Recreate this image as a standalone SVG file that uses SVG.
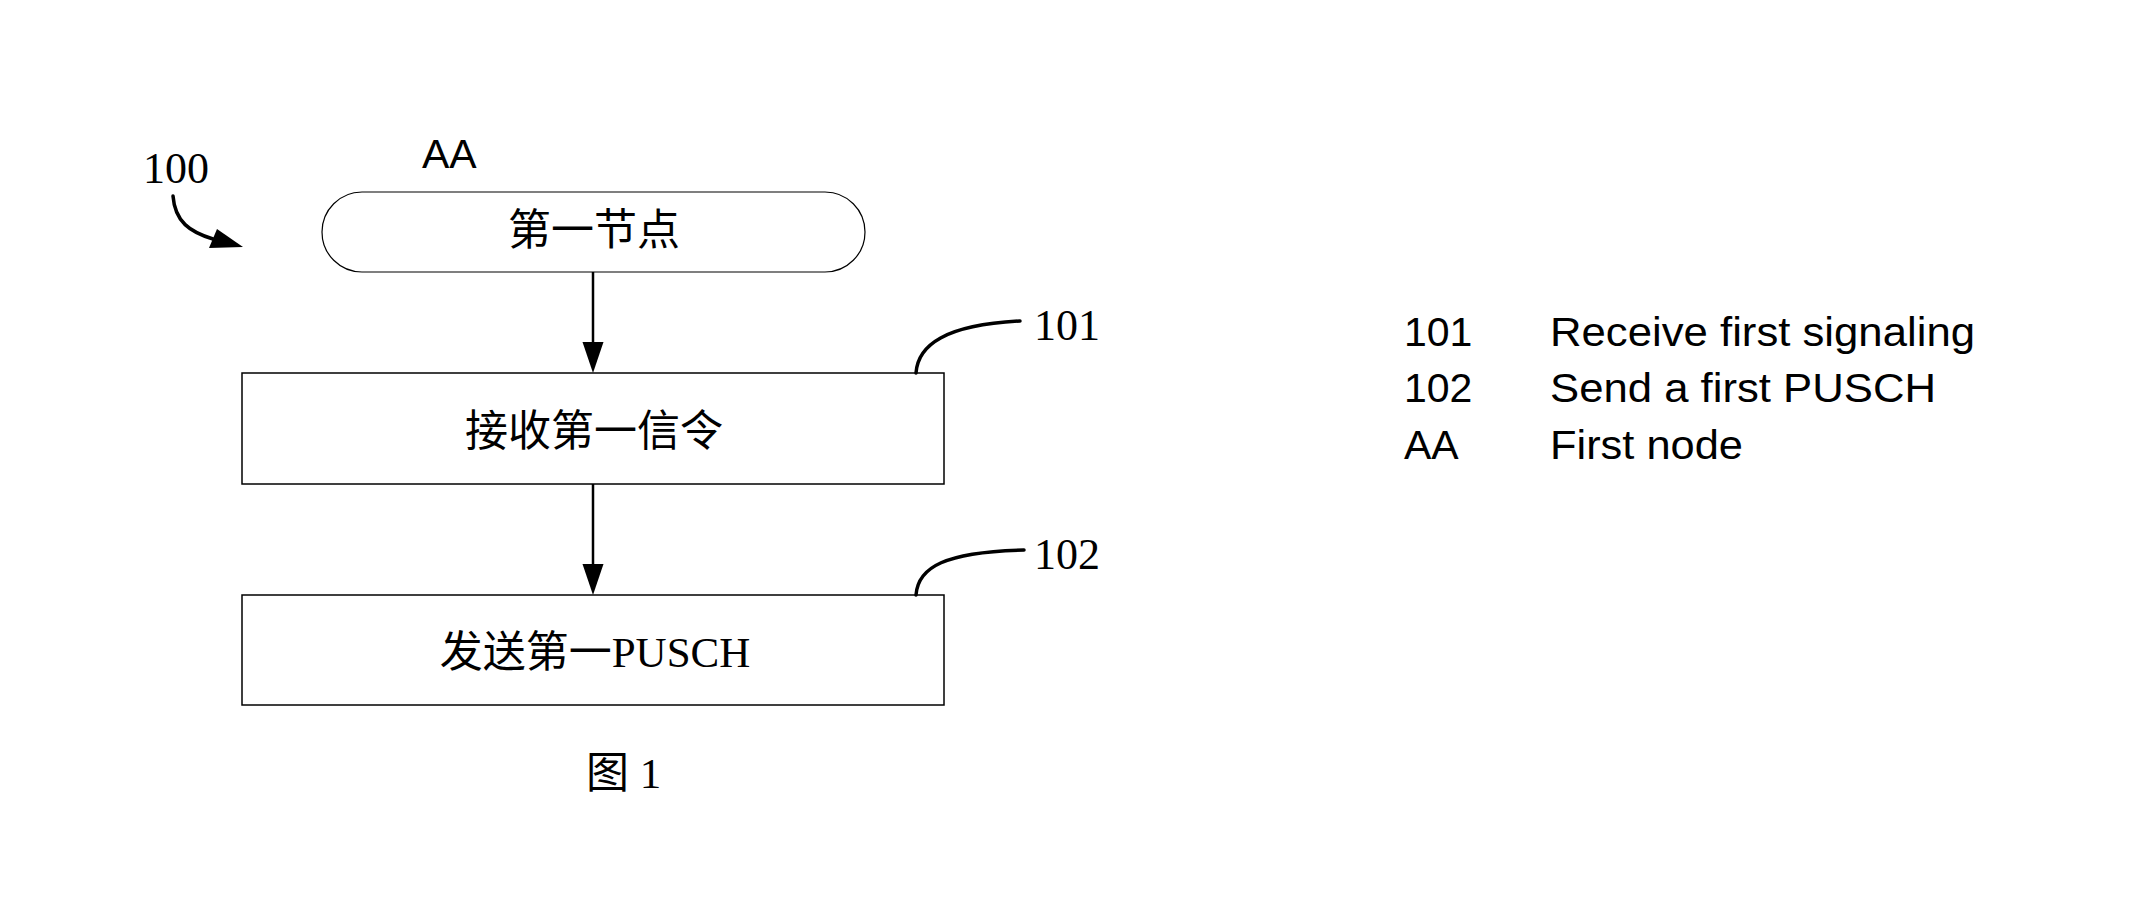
<svg xmlns="http://www.w3.org/2000/svg" width="2139" height="917" viewBox="0 0 2139 917">
  <style>
    .shape { fill: #ffffff; stroke: #000000; stroke-width: 1.5; }
    .pill { fill: #ffffff; stroke: #000000; stroke-width: 1.2; }
    .conn { fill: none; stroke: #000000; stroke-width: 2.5; }
    .callout { fill: none; stroke: #000000; stroke-width: 3.5; stroke-linecap: round; }
    .head { fill: #000000; stroke: none; }
    .cjk { font-family: "Liberation Serif", "Noto Sans CJK SC", serif; font-size: 43px; fill: #000000; }
    .num { font-family: "Liberation Serif", serif; font-size: 44px; fill: #000000; }
    .sans { font-family: "Liberation Sans", Arial, sans-serif; font-size: 41px; fill: #000000; }
  </style>
  <rect x="0" y="0" width="2139" height="917" fill="#ffffff"/>

  <g id="label-100">
    <text class="num" x="143" y="183" font-size="43">100</text>
    <path class="callout" d="M173,196 C175,222 190,232 213,239"/>
    <polygon class="head" points="209,248 217,229 243,247"/>
  </g>

  <g id="label-AA">
    <text class="sans" x="422" y="168" font-size="44">AA</text>
  </g>

  <g id="node-start">
    <rect class="pill" x="322" y="192" width="543" height="80" rx="40" ry="40"/>
    <text class="cjk" x="594" y="245" text-anchor="middle">第一节点</text>
  </g>

  <g id="node-101">
    <rect class="shape" x="242" y="373" width="702" height="111"/>
    <text class="cjk" x="594" y="446" text-anchor="middle" font-size="43.5">接收第一信令</text>
    <path class="callout" d="M916,373 C918,345 945,325 1020,321"/>
    <text class="num" x="1034" y="340">101</text>
  </g>

  <g id="node-102">
    <rect class="shape" x="242" y="595" width="702" height="110"/>
    <text class="cjk" x="595" y="667" text-anchor="middle" font-size="44">发送第一PUSCH</text>
    <path class="callout" d="M916,595 C918,567 945,552 1024,550"/>
    <text class="num" x="1034" y="569">102</text>
  </g>

  <g id="connectors">
    <line class="conn" x1="593" y1="272" x2="593" y2="344"/>
    <polygon class="head" points="582.5,342 603.5,342 593,373"/>
    <line class="conn" x1="593" y1="484" x2="593" y2="566"/>
    <polygon class="head" points="582.5,564 603.5,564 593,595"/>
  </g>

  <g id="caption">
    <text class="cjk" x="586" y="788" font-size="42">图 1</text>
  </g>

  <g id="legend">
    <text class="sans" x="1404" y="346">101</text>
    <text class="sans" x="1550" y="346" textLength="425" lengthAdjust="spacingAndGlyphs">Receive first signaling</text>
    <text class="sans" x="1404" y="402">102</text>
    <text class="sans" x="1550" y="402" textLength="386" lengthAdjust="spacingAndGlyphs">Send a first PUSCH</text>
    <text class="sans" x="1404" y="459">AA</text>
    <text class="sans" x="1550" y="459" textLength="193" lengthAdjust="spacingAndGlyphs">First node</text>
  </g>
</svg>
